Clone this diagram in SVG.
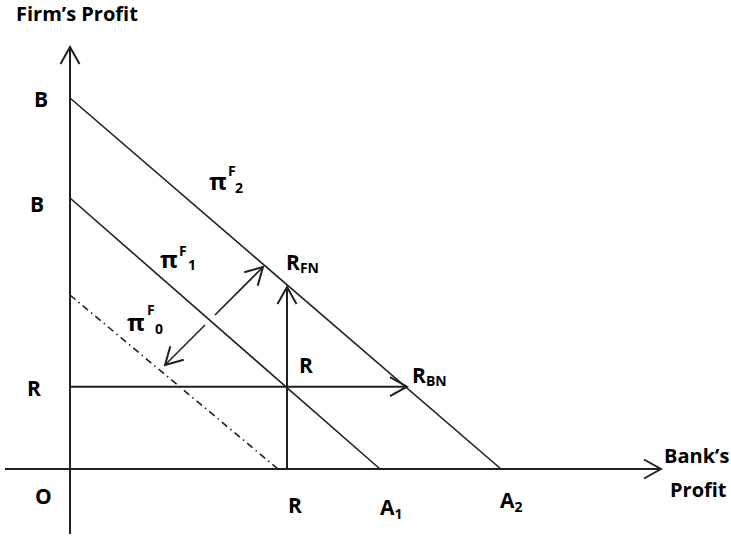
<svg xmlns="http://www.w3.org/2000/svg" width="731" height="536" viewBox="0 0 731 536">
<style>
.ln{stroke:#231f20;fill:none;stroke-width:1.6}
.ax{stroke:#231f20;fill:none;stroke-width:2}
.t{font-family:"Open Sans","Liberation Sans",sans-serif;font-weight:bold;font-size:20px;fill:#000}
.L{font-size:21px}
.s{font-size:14px}
.p{font-family:"Open Sans","DejaVu Sans",sans-serif;font-weight:bold;font-size:24px;fill:#000}
</style>
<defs>
<marker id="ah" viewBox="-20 -11 22 22" refX="0" refY="0" markerWidth="22" markerHeight="22" markerUnits="userSpaceOnUse" orient="auto">
<path d="M-17,-9.5 L0,0 L-17,9.5" fill="none" stroke="#231f20" stroke-width="2"/>
</marker>
</defs>
<rect width="731" height="536" fill="#fff"/>
<g id="axes">
<line class="ax" x1="70" y1="534" x2="70" y2="47" marker-end="url(#ah)"/>
<line class="ax" x1="5" y1="469" x2="661" y2="469" marker-end="url(#ah)"/>
</g>
<g id="curves">
<line class="ln" x1="70" y1="98" x2="501" y2="469"/>
<line class="ln" x1="70" y1="198" x2="380" y2="469"/>
<line class="ln" x1="70" y1="295" x2="278" y2="469" stroke-dasharray="7 4 1.5 4"/>
</g>
<g id="connectors">
<line class="ax" x1="70" y1="386.7" x2="407" y2="386.7" marker-end="url(#ah)"/>
<line class="ax" x1="287" y1="469" x2="287" y2="287" stroke-width="2.6" marker-end="url(#ah)"/>
<line class="ln" x1="215" y1="315" x2="263" y2="267" stroke-width="2" marker-end="url(#ah)"/>
<line class="ln" x1="205" y1="325" x2="165" y2="365" stroke-width="2" marker-end="url(#ah)"/>
</g>
<g id="labels">
<text class="t" x="16" y="21">Firm’s Profit</text>
<text class="t L" x="34" y="107">B</text>
<text class="t L" x="30" y="212">B</text>
<text class="t L" x="27" y="396">R</text>
<text class="t L" x="35" y="504">O</text>
<text class="t L" x="288" y="513">R</text>
<text class="t L" x="380" y="515">A<tspan class="s" dy="4">1</tspan></text>
<text class="t L" x="500" y="508">A<tspan class="s" dy="4">2</tspan></text>
<text class="t" x="664" y="463">Bank’s</text>
<text class="t" x="670" y="497">Profit</text>
<text class="t L" x="286" y="270">R<tspan class="s" dy="3">FN</tspan></text>
<text class="t L" x="299" y="373">R</text>
<text class="t L" x="412" y="383">R<tspan class="s" dy="3">BN</tspan></text>
</g>
<g id="pi-labels">
<text class="p" x="209" y="190">π</text>
<text class="t s" x="228" y="176">F</text>
<text class="t s" x="235" y="193">2</text>
<text class="p" x="160" y="268">π</text>
<text class="t s" x="179" y="256">F</text>
<text class="t s" x="188" y="270">1</text>
<text class="p" x="127" y="331">π</text>
<text class="t s" x="147" y="315">F</text>
<text class="t s" x="155" y="334">0</text>
</g>
</svg>
